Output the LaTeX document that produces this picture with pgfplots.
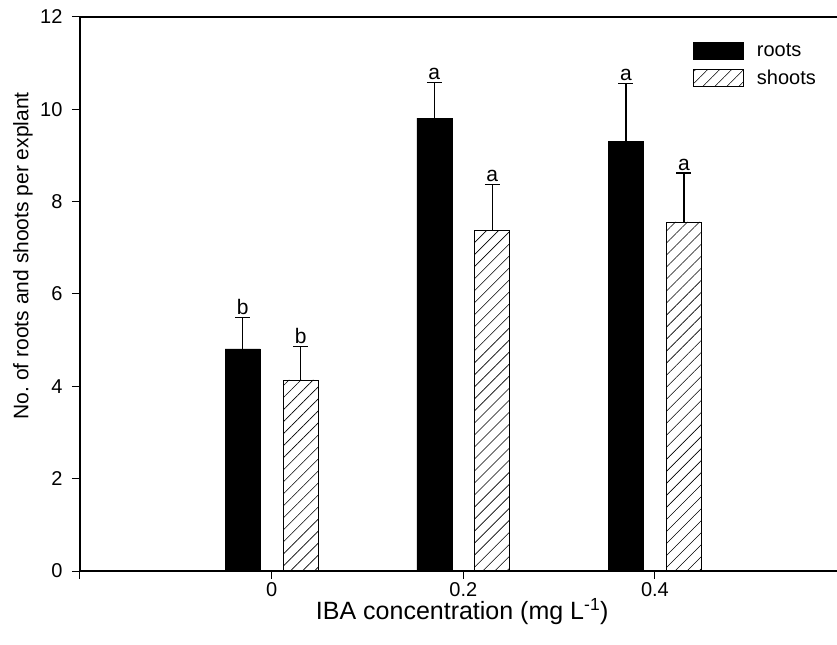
\documentclass[border=0pt]{standalone}
\usepackage{fontspec}
\setmainfont{Liberation Sans}
\usepackage{pgfplots}
\pgfplotsset{compat=1.18}
\usetikzlibrary{patterns.meta}

\pgfplotsset{
  legbox/.style={legend image code/.code={%
    \draw[##1] (0bp,-8.5bp) rectangle (50bp,8.5bp);
    \path (61bp,0bp);}},
}

\begin{document}
\begin{tikzpicture}
\begin{axis}[
    width=757bp, height=554bp,
    scale only axis,
    ybar,
    bar width=35bp,
    xmin=-0.2, xmax=0.59,
    ymin=0, ymax=12,
    axis x line=box,
    axis y line=left,
    axis line style={-, line width=1.2bp},
    xtick pos=bottom,
    ytick pos=left,
    xtick={-0.2,0,0.2,0.4},
    xticklabels={,0,0.2,0.4},
    ytick={0,2,4,6,8,10,12},
    tick align=outside,
    major tick length=8bp,
    tick style={line width=1bp, black},
    /pgf/number format/assume math mode=true,
    ticklabel style={font=\fontsize{20bp}{24bp}\selectfont},
    yticklabel style={xshift=-6bp},
    xlabel={IBA concentration (mg L\textsuperscript{-1})},
    ylabel={No.\ of roots and shoots per explant},
    xlabel style={font=\fontsize{25bp}{30bp}\selectfont,
        at={(axis description cs:0.505,-0.074)}, anchor=center},
    ylabel style={font=\fontsize{21bp}{25bp}\selectfont,
        at={(axis description cs:-0.0753,0.569)}, anchor=center},
    legend style={at={(axis description cs:0.81,0.956)}, anchor=north west,
        draw=none, fill=none, inner sep=0pt,
        font=\fontsize{20bp}{24bp}\selectfont, row sep=8bp},
    legend cell align=left,
    error bars/y dir=plus,
    error bars/y explicit,
    error bars/error bar style={line width=1.2bp, black},
    error bars/error mark options={rotate=90, black, line width=1.2bp, mark size=7.5bp},
    nodes near coords style={anchor=base, yshift=3bp, inner sep=0pt,
        font=\fontsize{21bp}{25bp}\selectfont},
]
\addplot[bar shift=-29bp, fill=black, draw=black, legbox]
  coordinates {(0,4.81) +- (0,0.68) (0.2,9.81) +- (0,0.77) (0.4,9.31) +- (0,1.25)};
\addlegendentry{roots}
\addplot[bar shift=29bp, draw=black, line width=0.6bp,
    pattern={Lines[angle=45,distance=8.5bp,line width=0.6bp]}, legbox]
  coordinates {(0,4.14) +- (0,0.73) (0.2,7.38) +- (0,1.00) (0.4,7.56) +- (0,1.06)};
\addlegendentry{shoots}
% significance letters at the tops of the error bars
\addplot[bar shift=-29bp, draw=none, fill=none, forget plot,
    nodes near coords, point meta=explicit symbolic]
  coordinates {(0,5.49)[b] (0.2,10.58)[a] (0.4,10.56)[a]};
\addplot[bar shift=29bp, draw=none, fill=none, forget plot,
    nodes near coords, point meta=explicit symbolic]
  coordinates {(0,4.87)[b] (0.2,8.38)[a] (0.4,8.62)[a]};
\end{axis}
\pgfresetboundingbox
\path (-80bp,-74bp) rectangle (757bp,571bp);
\end{tikzpicture}
\end{document}
